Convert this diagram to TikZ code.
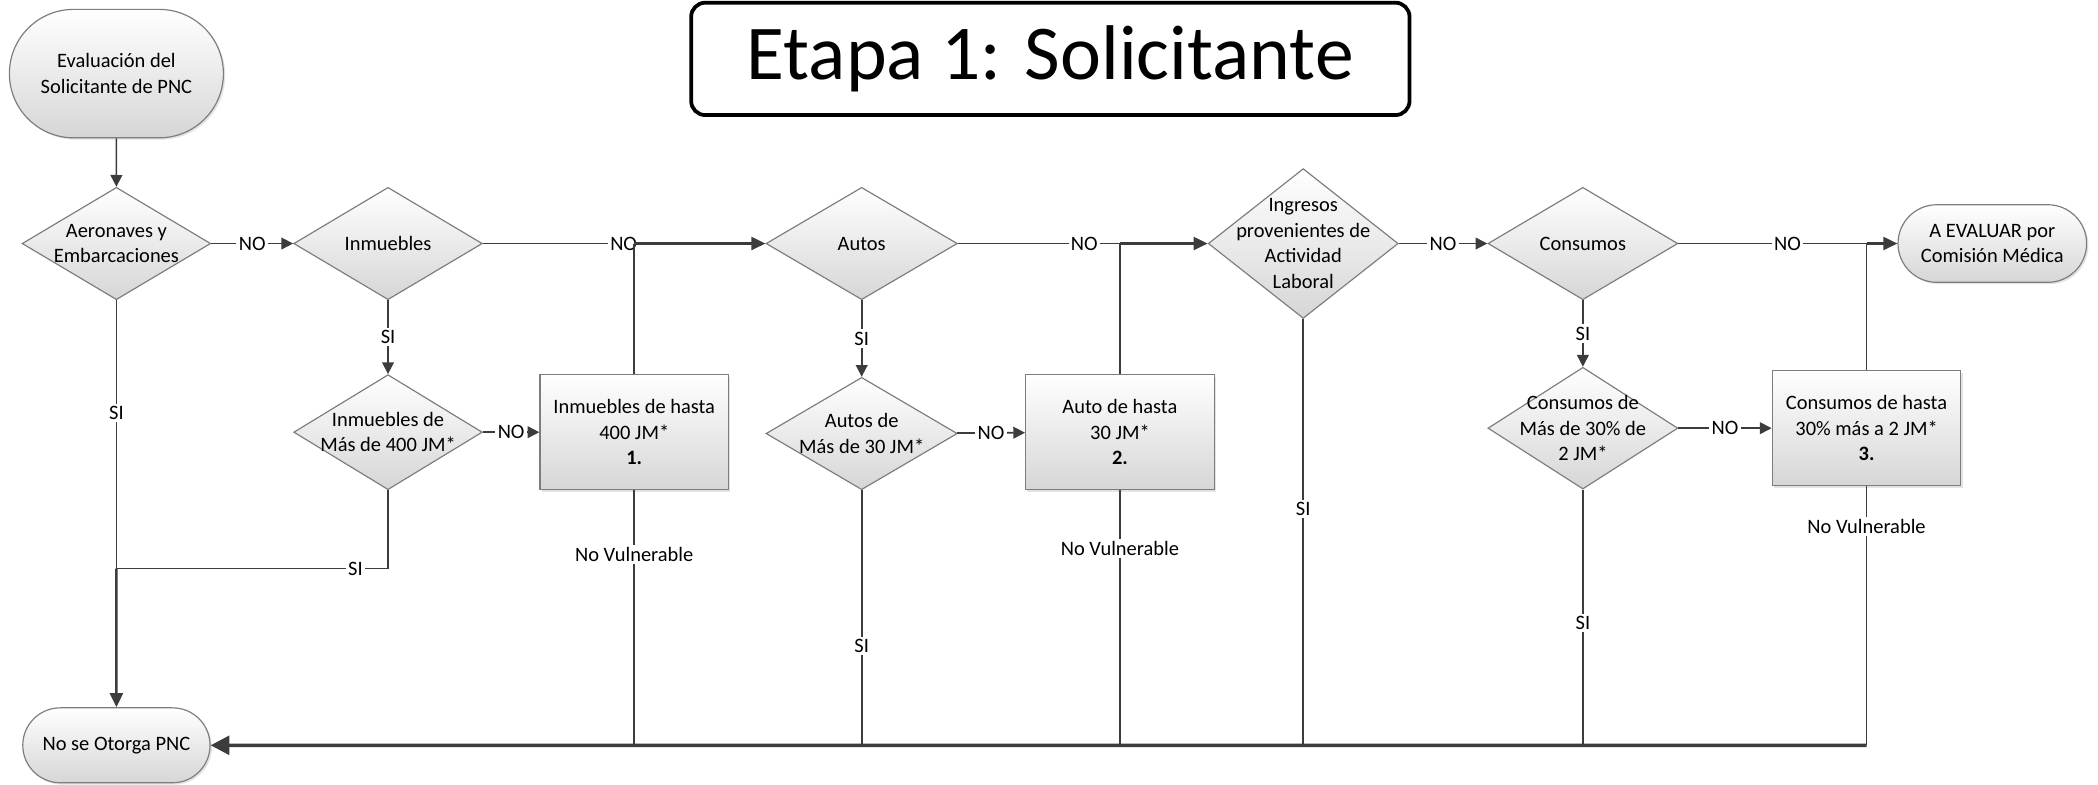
\documentclass[tikz,border=0pt]{standalone}
\usepackage{fontspec}
\setmainfont{Carlito}
\usetikzlibrary{positioning,arrows.meta,shapes.geometric,shapes.misc,shadows}
\definecolor{fcline}{RGB}{60,60,60}
\definecolor{fcborde}{RGB}{125,125,125}
\definecolor{fcgris}{RGB}{214,214,214}

\begin{document}
\begin{tikzpicture}[x=0.02cm,y=-0.02cm,
  every node/.style={font=\fontsize{8.7}{10.8}\selectfont},
  sombra/.style={drop shadow={opacity=0.22,shadow xshift=0.8pt,shadow yshift=-0.8pt}},
  relleno/.style={draw=fcborde,line width=0.5pt,top color=white,bottom color=fcgris},
  titulo/.style={draw=black,line width=1.6pt,rounded corners=6pt,fill=white,
    minimum width=10.74cm,minimum height=1.68cm,font=\fontsize{33}{40}\selectfont},
  terminal/.style={rounded rectangle,relleno,sombra,align=center,inner sep=0pt},
  caja/.style={rectangle,relleno,sombra,align=center,inner sep=0pt,
    minimum width=2.82cm,minimum height=1.72cm},
  decision/.style={diamond,relleno,inner sep=0pt,minimum width=2.82cm,minimum height=1.68cm},
  dtext/.style={align=center,inner sep=0pt},
  linea/.style={draw=fcline,line width=0.7pt},
  flecha/.style={linea,-{Triangle[length=5pt,width=5pt]}},
  grueso/.style={draw=fcline,line width=1.1pt,-{Triangle[length=6pt,width=5.5pt]}},
  lbl/.style={fill=white,inner sep=1pt}]
\useasboundingbox (0,0) rectangle (1568,586);

% Title
\node[titulo] (titulo) at (785,44) {Etapa 1: Solicitante};

% Start and end
\node[terminal,minimum width=3.2cm,minimum height=1.92cm] (inicio) at (87,55) {Evaluación del\\Solicitante de PNC};
\node[terminal,minimum width=2.8cm,minimum height=1.12cm] (noPNC) at (87,557) {No se Otorga PNC};
\node[terminal,minimum width=2.82cm,minimum height=1.16cm] (evaluar) at (1489,182) {A EVALUAR por\\Comisión Médica};

% Decisions
\node[decision,label={[dtext]center:{Aeronaves y\\Embarcaciones}}] (aero) at (87,182) {};
\node[decision,label={[dtext]center:Inmuebles}] (inm) at (290,182) {};
\node[decision,minimum height=1.72cm,label={[dtext]center:{Inmuebles de\\Más de 400 JM*}}] (inm400) at (290,323) {};
\node[decision,minimum width=2.86cm,label={[dtext]center:Autos}] (autos) at (644,182) {};
\node[decision,minimum width=2.86cm,label={[dtext]center:{Autos de\\Más de 30 JM*}}] (autos30) at (644,324) {};
\node[decision,minimum width=2.84cm,minimum height=2.24cm,label={[dtext]center:{Ingresos\\provenientes de\\Actividad\\Laboral}}] (ingr) at (974,182) {};
\node[decision,minimum width=2.84cm,label={[dtext]center:Consumos}] (cons) at (1183,182) {};
\node[decision,minimum width=2.84cm,minimum height=1.82cm,label={[dtext]center:{Consumos de\\Más de 30\% de\\2 JM*}}] (cons30) at (1183,320) {};

% Results
\node[caja] (caja1) at (474,323) {Inmuebles de hasta\\400 JM*\\\textbf{1.}};
\node[caja] (caja2) at (837,323) {Auto de hasta\\30 JM*\\\textbf{2.}};
\node[caja] (caja3) at (1395,320) {Consumos de hasta\\30\% más a 2 JM*\\\textbf{3.}};

% Junctions
\coordinate (j1) at (474,182);
\coordinate (j2) at (837,182);
\coordinate (j3) at (1395,182);
\coordinate (jsi) at (87,425);
\coordinate (b1) at (474,557);
\coordinate (b2) at (644,557);
\coordinate (b3) at (837,557);
\coordinate (b4) at (974,557);
\coordinate (b5) at (1183,557);
\coordinate (b6) at (1395,557);

% Main row
\draw[flecha] (inicio) -- (aero);
\draw[flecha] (aero) -- node[lbl]{NO} (inm);
\draw[linea] (inm) -- node[lbl,pos=0.93]{NO} (j1);
\draw[linea] (caja1) -- (j1);
\draw[grueso] (j1) -- (autos);
\draw[linea] (autos) -- node[lbl,pos=0.78]{NO} (j2);
\draw[linea] (caja2) -- (j2);
\draw[grueso] (j2) -- (ingr);
\draw[flecha] (ingr) -- node[lbl]{NO} (cons);
\draw[linea] (cons) -- node[lbl,pos=0.58]{NO} (j3);
\draw[linea] (caja3) -- (j3);
\draw[grueso] (j3) -- (evaluar);

% Second row
\draw[flecha] (inm) -- node[lbl]{SI} (inm400);
\draw[flecha] (inm400) -- node[lbl]{NO} (caja1);
\draw[flecha] (autos) -- node[lbl]{SI} (autos30);
\draw[flecha] (autos30) -- node[lbl]{NO} (caja2);
\draw[flecha] (cons) -- node[lbl]{SI} (cons30);
\draw[flecha] (cons30) -- node[lbl]{NO} (caja3);

% Down to No se Otorga
\draw[linea] (aero) -- node[lbl,pos=0.42]{SI} (jsi);
\draw[linea] (inm400) |- node[lbl,pos=0.56]{SI} (jsi);
\draw[grueso] (jsi) -- (noPNC);
\draw[linea] (caja1) -- node[lbl,pos=0.25]{No Vulnerable} (b1);
\draw[linea] (autos30) -- node[lbl,pos=0.61]{SI} (b2);
\draw[linea] (caja2) -- node[lbl,pos=0.23]{No Vulnerable} (b3);
\draw[linea] (ingr) -- node[lbl,pos=0.445]{SI} (b4);
\draw[linea] (cons30) -- node[lbl,pos=0.52]{SI} (b5);
\draw[linea] (caja3) -- node[lbl,pos=0.155]{No Vulnerable} (b6);
\draw[grueso,line width=1.5pt,-{Triangle[length=8pt,width=8pt]}] (b6) -- (noPNC);
\end{tikzpicture}
\end{document}
